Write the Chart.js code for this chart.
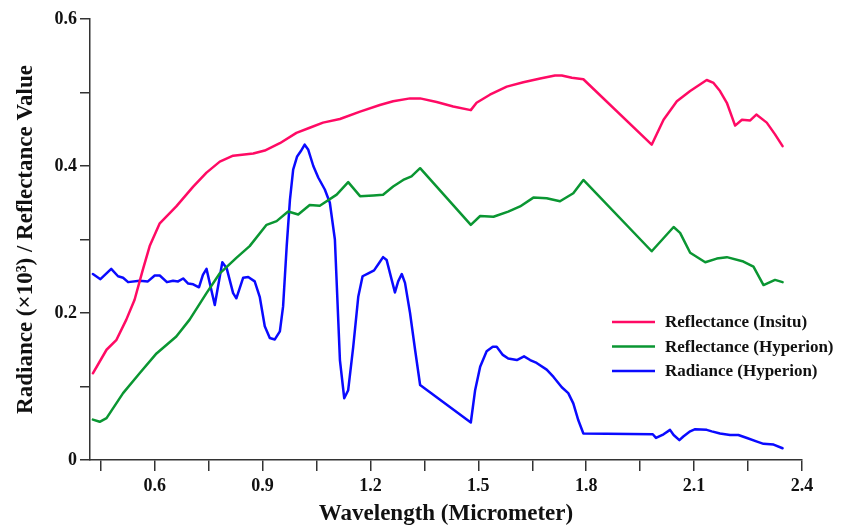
<!DOCTYPE html>
<html>
<head>
<meta charset="utf-8">
<script src="https://cdn.jsdelivr.net/npm/chart.js@4"></script>
<style>
  html, body { margin: 0; padding: 0; background: #fff; }
  #wrap { width: 845px; height: 526px; }
</style>
</head>
<body>
<div id="wrap"><canvas id="spectraChart" width="845" height="526"></canvas></div>
<script>
// wavelength (micrometer) / value pairs
const insituWl = [0.428,0.466,0.493,0.521,0.544,0.567,0.586,0.614,0.660,0.707,0.744,0.781,0.818,0.874,0.906,0.948,0.994,1.031,1.068,1.115,1.171,1.226,1.263,1.310,1.338,1.384,1.430,1.479,1.495,1.532,1.579,1.625,1.672,1.713,1.732,1.760,1.792,1.982,2.015,2.052,2.089,2.135,2.154,2.172,2.191,2.214,2.233,2.256,2.273,2.302,2.325,2.346];
const insituRefl = [0.118,0.150,0.163,0.191,0.218,0.259,0.291,0.322,0.345,0.372,0.391,0.406,0.414,0.417,0.421,0.431,0.445,0.452,0.459,0.464,0.474,0.483,0.488,0.492,0.492,0.487,0.481,0.476,0.486,0.497,0.508,0.514,0.519,0.523,0.523,0.520,0.518,0.429,0.463,0.488,0.502,0.517,0.513,0.502,0.486,0.455,0.463,0.462,0.470,0.459,0.443,0.427];

const hypWl = [0.428,0.447,0.466,0.512,0.558,0.605,0.660,0.697,0.744,0.781,0.827,0.864,0.911,0.939,0.971,0.999,1.031,1.059,1.106,1.138,1.171,1.208,1.235,1.263,1.291,1.314,1.338,1.479,1.505,1.542,1.583,1.616,1.653,1.690,1.727,1.764,1.792,1.982,2.043,2.061,2.089,2.131,2.163,2.191,2.237,2.265,2.293,2.325,2.346];
const hypRefl = [0.055,0.052,0.057,0.091,0.118,0.145,0.168,0.191,0.227,0.254,0.275,0.291,0.320,0.325,0.338,0.334,0.347,0.346,0.361,0.378,0.359,0.360,0.361,0.372,0.381,0.386,0.397,0.320,0.332,0.331,0.338,0.345,0.357,0.356,0.352,0.363,0.381,0.284,0.317,0.309,0.282,0.269,0.274,0.276,0.270,0.263,0.238,0.245,0.242];

const radWl = [0.428,0.449,0.479,0.498,0.512,0.526,0.558,0.581,0.600,0.614,0.634,0.651,0.665,0.679,0.693,0.707,0.723,0.734,0.744,0.767,0.788,0.800,0.818,0.827,0.846,0.860,0.878,0.892,0.906,0.920,0.934,0.948,0.957,0.967,0.976,0.985,0.996,1.006,1.017,1.027,1.041,1.055,1.073,1.087,1.101,1.115,1.127,1.138,1.152,1.166,1.178,1.194,1.210,1.224,1.235,1.245,1.259,1.268,1.277,1.287,1.296,1.310,1.324,1.338,1.479,1.491,1.505,1.523,1.540,1.551,1.568,1.583,1.607,1.627,1.644,1.662,1.690,1.709,1.732,1.750,1.764,1.778,1.792,1.985,1.994,2.015,2.033,2.043,2.059,2.070,2.089,2.103,2.135,2.149,2.172,2.200,2.223,2.247,2.275,2.293,2.321,2.346];
const radVal = [0.253,0.246,0.260,0.250,0.248,0.242,0.244,0.243,0.251,0.251,0.242,0.244,0.243,0.247,0.240,0.239,0.235,0.252,0.260,0.211,0.269,0.261,0.227,0.220,0.248,0.249,0.243,0.222,0.182,0.166,0.164,0.175,0.209,0.291,0.354,0.395,0.413,0.420,0.429,0.422,0.400,0.384,0.368,0.350,0.300,0.136,0.084,0.095,0.154,0.222,0.250,0.254,0.258,0.268,0.276,0.272,0.245,0.228,0.243,0.253,0.241,0.200,0.150,0.102,0.051,0.095,0.127,0.148,0.154,0.154,0.143,0.138,0.136,0.141,0.136,0.132,0.123,0.113,0.099,0.091,0.077,0.054,0.036,0.035,0.030,0.035,0.041,0.034,0.027,0.032,0.039,0.042,0.041,0.039,0.036,0.034,0.034,0.030,0.025,0.022,0.021,0.016];

const seriesNames = ['Reflectance (Insitu)', 'Reflectance (Hyperion)', 'Radiance (Hyperion)'];
const seriesColors = ['#ff0a64', '#0a9632', '#0a0aff'];

const xTickValues = [0.45,0.6,0.75,0.9,1.05,1.2,1.35,1.5,1.65,1.8,1.95,2.1,2.25,2.4];
const xTickLabels = ['','0.6','','0.9','','1.2','','1.5','','1.8','','2.1','','2.4'];
const yTickValues = [0,0.1,0.2,0.3,0.4,0.5,0.6];
const yTickLabels = ['0','','0.2','','0.4','','0.6'];

const serif = '"Liberation Serif", "Times New Roman", serif';
const toPoints = (xs, ys) => xs.map((x, i) => ({ x: x, y: ys[i] }));

const insideLegend = {
    id: 'insideLegend',
    afterDatasetsDraw(chart) {
        const ctx = chart.ctx;
        const x0 = 612, y0 = 322, rowGap = 24.5;
        ctx.save();
        ctx.font = 'bold 17px ' + serif;
        ctx.textBaseline = 'middle';
        chart.data.datasets.forEach((ds, i) => {
            const y = y0 + i * rowGap;
            ctx.strokeStyle = ds.borderColor;
            ctx.lineWidth = 2.5;
            ctx.beginPath();
            ctx.moveTo(x0, y);
            ctx.lineTo(x0 + 43, y);
            ctx.stroke();
            ctx.fillStyle = '#111';
            ctx.fillText(ds.label, x0 + 53, y + 1);
        });
        ctx.restore();
    }
};

const ctx = document.getElementById('spectraChart').getContext('2d');
new Chart(ctx, {
    type: 'line',
    data: {
        datasets: [
            { label: seriesNames[0], data: toPoints(insituWl, insituRefl), borderColor: seriesColors[0] },
            { label: seriesNames[1], data: toPoints(hypWl, hypRefl), borderColor: seriesColors[1] },
            { label: seriesNames[2], data: toPoints(radWl, radVal), borderColor: seriesColors[2] }
        ]
    },
    options: {
        responsive: false,
        animation: false,
        layout: { padding: { top: 19, right: 43, left: 0, bottom: 0 } },
        elements: {
            point: { radius: 0 },
            line: { borderWidth: 2.5, tension: 0, borderJoinStyle: 'round', borderCapStyle: 'round', fill: false }
        },
        plugins: { legend: { display: false }, tooltip: { enabled: false } },
        scales: {
            x: {
                type: 'linear',
                min: 0.42,
                max: 2.4,
                afterBuildTicks: s => { s.ticks = xTickValues.map(v => ({ value: v })); },
                afterFit: s => { s.height = 66; },
                grid: { display: true, drawOnChartArea: false, drawTicks: true, tickLength: 11, color: '#333', lineWidth: 1.5 },
                border: { display: true, color: '#333', width: 1.5 },
                ticks: {
                    autoSkip: false, maxRotation: 0, padding: 5, color: '#111',
                    font: { family: serif, size: 18, weight: 'bold' },
                    callback: (v, i) => xTickLabels[i]
                },
                title: {
                    display: true, text: 'Wavelength (Micrometer)', color: '#111',
                    font: { family: serif, size: 23, weight: 'bold', lineHeight: 1 },
                    padding: { top: 0, bottom: 0 }
                }
            },
            y: {
                min: 0,
                max: 0.6,
                afterBuildTicks: s => { s.ticks = yTickValues.map(v => ({ value: v })); },
                afterFit: s => { s.width = 90; },
                grid: { display: true, drawOnChartArea: false, drawTicks: true, tickLength: 10, color: '#333', lineWidth: 1.5 },
                border: { display: true, color: '#333', width: 1.5 },
                ticks: {
                    autoSkip: false, padding: 3, color: '#111',
                    font: { family: serif, size: 18, weight: 'bold' },
                    callback: (v, i) => yTickLabels[i]
                },
                title: {
                    display: true, text: 'Radiance (×10³) / Reflectance Value', color: '#111',
                    font: { family: serif, size: 23, weight: 'bold', lineHeight: 1.2 },
                    padding: { top: 12, bottom: 0 }
                }
            }
        }
    },
    plugins: [insideLegend]
});
</script>
</body>
</html>
